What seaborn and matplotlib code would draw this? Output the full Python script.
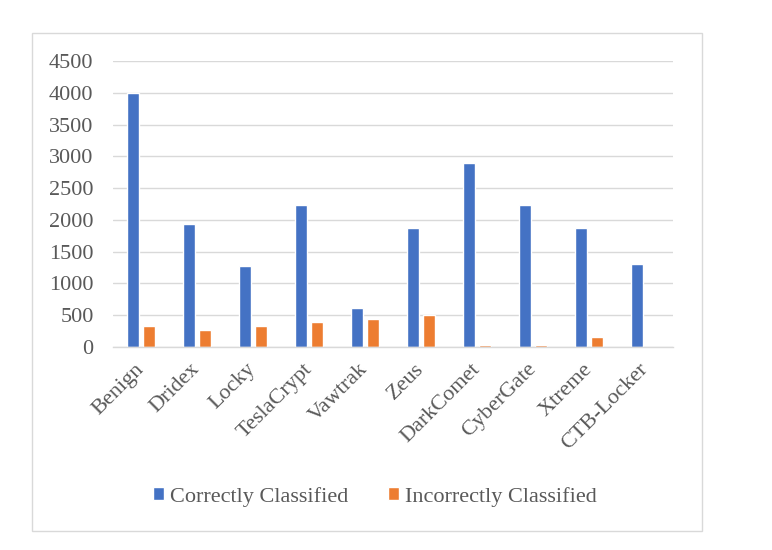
import pandas as pd
import seaborn as sns
import matplotlib.pyplot as plt
from matplotlib.patches import Rectangle

families = ["Benign", "Dridex", "Locky", "TeslaCrypt", "Vawtrak", "Zeus",
            "DarkComet", "CyberGate", "Xtreme", "CTB-Locker"]
correct = [4000, 1940, 1275, 2230, 610, 1870, 2895, 2230, 1870, 1310]
incorrect = [325, 270, 330, 390, 445, 510, 25, 25, 150, 0]
series = ["Correctly Classified", "Incorrectly Classified"]

df = pd.DataFrame({
    "family": families * 2,
    "count": correct + incorrect,
    "series": [series[0]] * len(families) + [series[1]] * len(families),
})

sns.set_style("white")
plt.rcParams["font.family"] = ["Liberation Serif", "DejaVu Serif"]

fig = plt.figure(figsize=(7.72, 5.5), dpi=100)
ax = fig.add_axes([0.1464, 0.3691, 0.7254, 0.52])

sns.barplot(data=df, x="family", y="count", hue="series", order=families,
            hue_order=series, palette=["#4472C4", "#ED7D31"],
            width=0.56, gap=0.2, ax=ax, saturation=1)

ax.set_ylim(0, 4500)
ax.set_yticks(range(0, 4501, 500))
ax.set_xlim(-0.5, len(families) - 0.5)
ax.yaxis.grid(True, color="#D9D9D9", linewidth=1)
ax.set_axisbelow(True)
for s in ["top", "right", "left"]:
    ax.spines[s].set_visible(False)
ax.spines["bottom"].set_color("#D9D9D9")
ax.spines["bottom"].set_linewidth(1)
ax.set_xlabel("")
ax.set_ylabel("")
ax.tick_params(axis="y", length=0, pad=14, labelsize=16, labelcolor="#595959")
ax.tick_params(axis="x", length=0, pad=14, labelsize=16, labelcolor="#595959")
plt.setp(ax.get_xticklabels(), rotation=45, ha="right", va="center",
         rotation_mode="anchor")

ax.get_legend().remove()
handles, labels = ax.get_legend_handles_labels()
fig.legend(handles, labels, loc="center", bbox_to_anchor=(0.4858, 0.0969),
           ncol=2, frameon=False, fontsize=16, labelcolor="#595959",
           handlelength=0.5, handleheight=0.5, handletextpad=0.27,
           columnspacing=1.8)

fig.patches.append(Rectangle((0.0415, 0.0345), 0.868, 0.9055,
                             transform=fig.transFigure, fill=False,
                             edgecolor="#D9D9D9", linewidth=1))

fig.savefig("out.png", dpi=100)
